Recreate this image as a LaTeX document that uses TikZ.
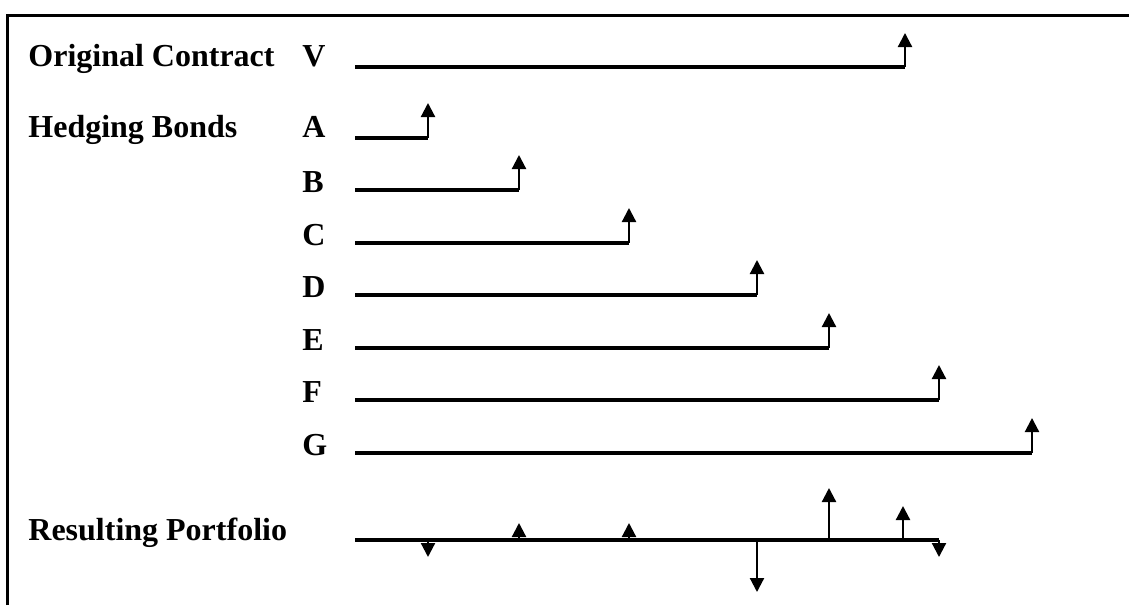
\documentclass[tikz,border=0pt]{standalone}
\usepackage{fontspec}
\setmainfont{Liberation Serif}
\usetikzlibrary{arrows.meta}
\tikzset{
	lab/.style={anchor=base west, inner sep=0pt, font=\fontsize{16}{19}\selectfont\bfseries},
	cashline/.style={line width=1.8pt},
	flow/.style={line width=1.1pt, -{Triangle[width=7pt,length=7pt]}},
}
\begin{document}
\begin{tikzpicture}[x=0.5pt,y=-0.5pt]
		\useasboundingbox (0,0) rectangle (1129,605);
		% frame
		\coordinate (fb) at (7,605);
		\coordinate (fc) at (7,15);
		\coordinate (fr) at (1129,15);
		\draw[line width=1.5pt] (fb) -- (fc) -- (fr);
		% labels
		\node[lab] (orig) at (28,66) {Original Contract};
		\node[lab] (hedge) at (28,137) {Hedging Bonds};
		\node[lab] (result) at (28,540) {Resulting Portfolio};
		\node[lab] (V) at (302,66) {V};
		\node[lab] (A) at (302,137) {A};
		\node[lab] (B) at (302,192) {B};
		\node[lab] (C) at (302,245) {C};
		\node[lab] (D) at (302,297) {D};
		\node[lab] (E) at (302,350) {E};
		\node[lab] (F) at (302,402) {F};
		\node[lab] (G) at (302,455) {G};
		% cash flow points
		\coordinate (Vs) at (355,67);  \coordinate (Ve) at (905,67);  \coordinate (Vt) at (905,33);
		\coordinate (As) at (355,138); \coordinate (Ae) at (428,138); \coordinate (At) at (428,103);
		\coordinate (Bs) at (355,190); \coordinate (Be) at (519,190); \coordinate (Bt) at (519,155);
		\coordinate (Cs) at (355,243); \coordinate (Ce) at (629,243); \coordinate (Ct) at (629,208);
		\coordinate (Ds) at (355,295); \coordinate (De) at (757,295); \coordinate (Dt) at (757,260);
		\coordinate (Es) at (355,348); \coordinate (Ee) at (829,348); \coordinate (Et) at (829,313);
		\coordinate (Fs) at (355,400); \coordinate (Fe) at (939,400); \coordinate (Ft) at (939,365);
		\coordinate (Gs) at (355,453); \coordinate (Ge) at (1032,453); \coordinate (Gt) at (1032,418);
		\draw[cashline] (Vs) -- (Ve);
		\draw[cashline] (As) -- (Ae);
		\draw[cashline] (Bs) -- (Be);
		\draw[cashline] (Cs) -- (Ce);
		\draw[cashline] (Ds) -- (De);
		\draw[cashline] (Es) -- (Ee);
		\draw[cashline] (Fs) -- (Fe);
		\draw[cashline] (Gs) -- (Ge);
		\draw[flow] (Ve) -- (Vt);
		\draw[flow] (Ae) -- (At);
		\draw[flow] (Be) -- (Bt);
		\draw[flow] (Ce) -- (Ct);
		\draw[flow] (De) -- (Dt);
		\draw[flow] (Ee) -- (Et);
		\draw[flow] (Fe) -- (Ft);
		\draw[flow] (Ge) -- (Gt);
		% resulting portfolio
		\coordinate (Ps) at (355,540); \coordinate (Pe) at (939,540);
		\coordinate (pa) at (428,540); \coordinate (pat) at (428,557);
		\coordinate (pb) at (519,540); \coordinate (pbt) at (519,523);
		\coordinate (pc) at (629,540); \coordinate (pct) at (629,523);
		\coordinate (pd) at (757,540); \coordinate (pdt) at (757,592);
		\coordinate (pe) at (829,540); \coordinate (pet) at (829,488);
		\coordinate (pf) at (903,540); \coordinate (pft) at (903,506);
		\coordinate (pgt) at (939,557);
		\draw[cashline] (Ps) -- (Pe);
		\draw[flow] (pa) -- (pat);
		\draw[flow] (pb) -- (pbt);
		\draw[flow] (pc) -- (pct);
		\draw[flow] (pd) -- (pdt);
		\draw[flow] (pe) -- (pet);
		\draw[flow] (pf) -- (pft);
		\draw[flow] (Pe) -- (pgt);
	\end{tikzpicture}
\end{document}
